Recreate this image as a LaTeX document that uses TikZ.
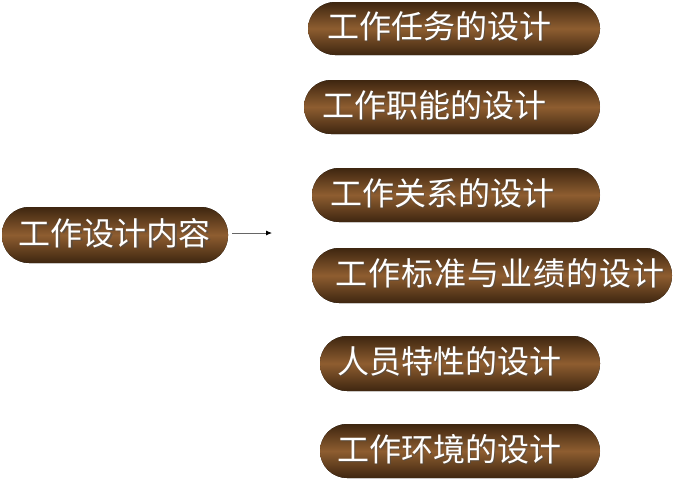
\documentclass[tikz,border=0pt]{standalone}
\usepackage{fontspec}
\newfontfamily\cjk{Noto Sans CJK SC}
\usetikzlibrary{arrows.meta}
\definecolor{brdark}{HTML}{3E2610}
\definecolor{brmid}{HTML}{8E5D30}
\tikzset{
  pill/.style={draw=none, rounded corners=27pt, top color=brdark, bottom color=brdark, middle color=brmid, inner sep=0pt},
  lbl/.style={text=white, font=\cjk\fontsize{32}{34}\selectfont, inner sep=0pt},
  shd/.style={text=black!70, font=\cjk\fontsize{32}{34}\selectfont, inner sep=0pt, opacity=0.6}
}
\newcommand{\mypill}[7]{%
  % name, x1, y1, x2, y2, textx, text
  \fill[pill] (#2,#3) rectangle (#4,#5);
  \coordinate (#1) at ({(#2+#4)/2},{(#3+#5)/2});
  \node[shd] at (#6+1.2,{(#3+#5)/2-0.8}) {#7};
  \node[lbl] (#1t) at (#6,{(#3+#5)/2-2}) {#7};
}
\begin{document}
\begin{tikzpicture}[x=1pt,y=-1pt]
\useasboundingbox (0,0) rectangle (680,480);
\mypill{m}{2}{207}{228}{263}{115}{工作设计内容}
\mypill{a}{308}{2}{600}{55}{439}{工作任务的设计}
\mypill{b}{304}{80}{600}{134}{434}{工作职能的设计}
\mypill{c}{312}{168}{600}{222}{442}{工作关系的设计}
\mypill{d}{312}{248}{672}{303}{500}{\addfontfeature{LetterSpace=3}工作标准与业绩的设计}
\mypill{e}{320}{336}{600}{391}{449}{人员特性的设计}
\mypill{f}{320}{424}{600}{478}{449}{工作环境的设计}
\coordinate (as) at (232,233);
\coordinate (ae) at (272,233);
\draw[black!60, line width=0.8pt, -{Latex[length=6pt,width=5pt,black]}] (as) -- (ae);
\end{tikzpicture}
\end{document}
